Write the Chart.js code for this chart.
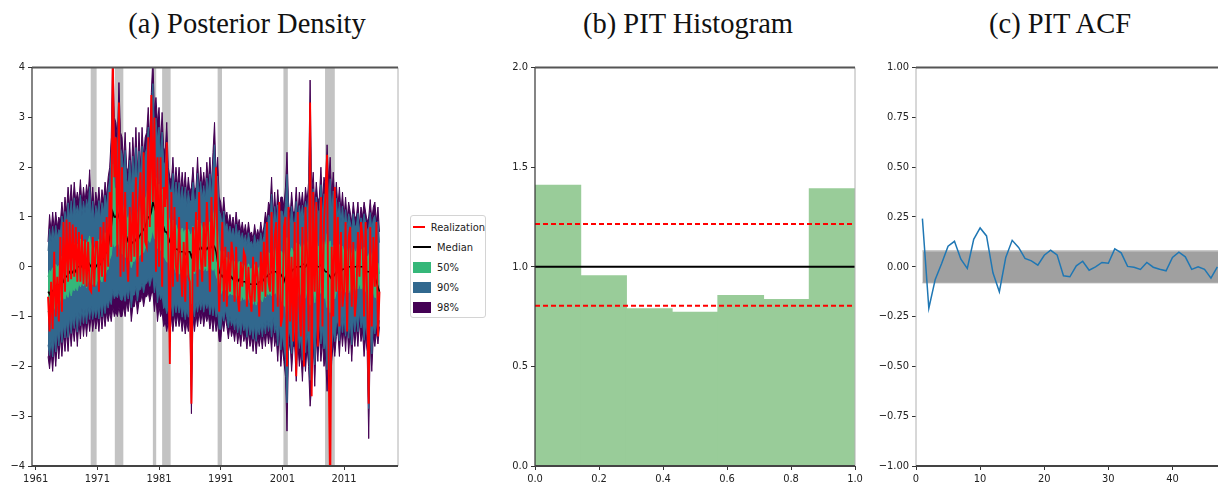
<!DOCTYPE html>
<html>
<head>
<meta charset="utf-8">
<script src="https://cdn.jsdelivr.net/npm/chart.js@4.4.1/dist/chart.umd.min.js"></script>
<style>
  body { margin: 0; background: #fff; width: 1218px; height: 494px; overflow: hidden; position: relative; }
  .title { position: absolute; top: 10px; line-height: 28px; font-family: "Liberation Serif", "DejaVu Serif", serif; font-size: 28.5px; color: #111; transform: translateX(-50%); white-space: nowrap; }
  canvas { position: absolute; top: 58px; }
  #legend { position: absolute; left: 410px; top: 215px; width: 76px; height: 103px; border: 1px solid #d4d4d4; border-radius: 3px; box-sizing: border-box; padding: 1px 0 0 2px; font-family: "DejaVu Sans Condensed", "DejaVu Sans", sans-serif; font-size: 11px; color: #222; background: #fff; }
  .row { height: 20px; display: flex; align-items: center; }
  .sw { width: 18px; margin-right: 6px; }
</style>
</head>
<body>
<div class="title" style="left:247px">(a) Posterior Density</div>
<div class="title" style="left:688px">(b) PIT Histogram</div>
<div class="title" style="left:1060px">(c) PIT ACF</div>
<canvas id="density" width="400" height="436" style="left:0px"></canvas>
<canvas id="hist" width="375" height="436" style="left:495px"></canvas>
<canvas id="acf" width="348" height="436" style="left:870px"></canvas>
<div id="legend"></div>
<script>
// quarterly readings, 1963Q1 .. 2016Q4, one row per year
const startYear = 1963;
const upper98 = [
  0.5, 1.05, 0.7, 1.1,   0.75, 1.1, 0.8, 1.0,   0.9, 1.3, 0.95, 1.4,   1.1, 1.6, 1.2, 1.65,
  1.2, 1.7, 1.3, 1.5,    1.3, 1.75, 1.25, 1.6,  1.3, 1.65, 1.4, 1.95,  1.2, 1.6, 1.1, 1.5,
  1.25, 1.6, 1.15, 1.55, 1.3, 1.7, 1.4, 1.8,    2.0, 2.6, 4.3, 3.0,    2.9, 2.6, 3.7, 2.7,
  2.6, 2.1, 2.7, 2.0,    1.9, 2.5, 1.8, 2.6,    2.0, 2.8, 1.9, 2.7,    2.0, 2.8, 2.2, 2.6,
  2.7, 3.2, 2.5, 3.5,    4.2, 3.1, 3.4, 2.9,    3.2, 2.5, 3.1, 2.4,    2.3, 2.9, 2.0, 1.8,
  1.7, 2.2, 1.6, 2.0,    1.6, 2.0, 1.5, 1.9,    1.5, 1.9, 1.4, 1.8,    1.5, 1.6, 2.0, 1.5,
  1.6, 2.2, 1.5, 2.0,    1.6, 1.9, 1.55, 2.1,   1.7, 2.2, 1.6, 2.3,    2.9, 1.8, 2.2, 1.4,
  1.3, 1.0, 1.4, 1.0,    1.1, 0.85, 1.05, 0.8,  1.0, 0.75, 1.1, 0.8,   0.95, 0.7, 0.9, 0.65,
  0.85, 0.6, 0.9, 0.65,  0.7, 0.55, 0.85, 0.6,  0.75, 0.6, 0.9, 0.65,  0.8, 1.1, 0.9, 1.3,
  1.2, 1.8, 1.0, 1.5,    1.0, 1.55, 1.1, 1.4,   1.4, 1.2, 1.6, 2.3,    1.3, 1.0, 1.5, 1.1,
  1.1, 1.6, 1.0, 1.5,    1.2, 1.5, 1.1, 1.6,    1.3, 1.7, 3.75, 1.5,   1.9, 1.2, 1.7, 1.3,
  1.4, 2.0, 1.3, 1.8,    1.6, 2.45, 1.7, 2.2,   1.4, 1.9, 1.3, 1.7,    1.2, 1.6, 1.1, 1.5,
  1.0, 1.4, 0.95, 1.3,   1.1, 0.9, 1.3, 1.0,    1.0, 1.3, 0.85, 1.2,   1.0, 1.3, 1.1, 0.9,
  1.0, 1.35, 0.95, 1.2,  1.3, 0.9, 1.2, 0.7
];
const lower98 = [
  -1.8, -2.05, -1.7, -2.1,   -1.6, -2.0, -1.5, -1.85,   -1.4, -1.8, -1.35, -1.7,   -1.3, -1.7, -1.2, -1.6,
  -1.2, -1.5, -1.1, -1.6,    -1.1, -1.45, -1.0, -1.4,   -1.05, -1.4, -1.0, -1.3,   -0.95, -1.3, -1.0, -1.25,
  -1.0, -1.3, -0.9, -1.25,   -0.9, -1.2, -0.9, -1.1,    -0.9, -1.1, -0.8, -1.0,    -0.9, -1.0, -0.8, -1.0,
  -1.0, -0.8, -1.0, -0.7,    -0.9, -0.6, -1.1, -0.8,    -0.8, -0.6, -0.95, -0.7,   -0.7, -0.55, -0.8, -0.6,
  -0.6, -0.5, -0.7, -0.55,   -0.5, -0.9, -0.6, -1.1,    -0.8, -1.0, -0.9, -1.2,    -1.1, -1.3, -1.1, -1.4,
  -1.0, -1.3, -0.95, -1.2,   -0.95, -1.2, -1.0, -1.3,   -1.05, -1.35, -1.1, -1.3,  -1.0, -2.95, -1.0, -1.3,
  -0.95, -1.2, -0.9, -1.15,  -0.9, -1.2, -0.95, -1.1,   -0.95, -1.25, -1.0, -1.3,  -1.0, -1.3, -1.1, -1.5,
  -1.5, -1.1, -1.3, -1.0,    -1.2, -1.45, -1.15, -1.4,  -1.25, -1.5, -1.2, -1.55,  -1.3, -1.6, -1.25, -1.5,
  -1.35, -1.65, -1.3, -1.6,  -1.4, -1.7, -1.35, -1.75,  -1.4, -1.6, -1.35, -1.65,  -1.3, -1.6, -1.25, -1.55,
  -1.3, -1.7, -1.2, -1.6,    -1.4, -1.9, -1.3, -2.0,    -1.6, -1.9, -2.2, -3.3,    -1.7, -1.5, -2.1, -1.6,
  -1.6, -2.3, -1.5, -2.0,    -1.7, -2.3, -1.6, -2.1,    -1.6, -2.0, -2.8, -2.4,    -1.5, -2.4, -1.4, -1.9,
  -1.3, -1.9, -1.5, -2.0,    -1.8, -2.5, -1.6, -2.6,    -1.9, -1.5, -1.8, -1.4,    -1.3, -1.8, -1.2, -1.6,
  -1.2, -1.7, -1.15, -1.75,  -1.3, -1.9, -1.25, -1.6,   -1.2, -1.6, -1.1, -1.5,    -1.3, -1.8, -1.4, -1.7,
  -3.45, -1.5, -2.1, -1.4,   -1.6, -1.3, -1.55, -1.2
];
const median = [
  -0.5, -0.55, -0.45, -0.5,  -0.45, -0.4, -0.35, -0.4,  -0.3, -0.25, -0.3, -0.2,   -0.2, -0.15, -0.1, -0.15,
  -0.1, -0.05, -0.1, 0.0,    0.0, 0.05, 0.0, 0.05,      0.05, 0.0, 0.1, 0.05,      0.0, 0.05, -0.05, 0.0,
  0.05, 0.1, 0.05, 0.1,      0.2, 0.25, 0.3, 0.4,       0.6, 0.8, 1.1, 1.0,        1.0, 1.1, 1.0, 0.9,
  0.8, 0.7, 0.7, 0.6,        0.5, 0.5, 0.45, 0.5,       0.5, 0.55, 0.5, 0.6,       0.65, 0.7, 0.75, 0.8,
  0.9, 1.0, 1.0, 1.1,        1.3, 1.2, 1.1, 1.0,        1.0, 0.9, 0.9, 0.8,        0.7, 0.7, 0.6, 0.5,
  0.45, 0.4, 0.4, 0.35,      0.35, 0.3, 0.3, 0.3,       0.3, 0.25, 0.3, 0.3,       0.3, 0.2, 0.3, 0.35,
  0.35, 0.4, 0.35, 0.4,      0.35, 0.4, 0.4, 0.35,      0.4, 0.35, 0.4, 0.45,      0.4, 0.3, 0.1, -0.1,
  -0.15, -0.2, -0.15, -0.2,  -0.2, -0.2, -0.25, -0.2,   -0.25, -0.2, -0.25, -0.3,  -0.25, -0.3, -0.3, -0.3,
  -0.3, -0.35, -0.3, -0.35,  -0.35, -0.35, -0.3, -0.35, -0.35, -0.3, -0.3, -0.3,   -0.25, -0.2, -0.2, -0.15,
  -0.15, -0.1, -0.1, -0.1,   -0.1, -0.15, -0.1, -0.15,  -0.2, -0.3, -0.2, -0.15,   -0.15, -0.1, -0.1, -0.05,
  -0.05, 0.0, 0.0, 0.0,      0.0, 0.05, 0.05, 0.0,      0.05, 0.05, 0.1, 0.0,      0.05, 0.0, 0.05, 0.0,
  0.0, 0.05, 0.0, -0.05,     -0.1, -0.1, -0.15, -0.2,   -0.25, -0.2, -0.15, -0.1,  -0.1, -0.05, -0.1, -0.05,
  -0.05, 0.0, -0.05, 0.0,    0.0, -0.05, 0.0, 0.0,      0.0, 0.05, 0.0, 0.0,       0.0, 0.0, -0.05, -0.1,
  -0.1, -0.1, -0.15, -0.1,   -0.2, -0.3, -0.4, -0.5
];
const realized = [
  -0.6, -1.3, -0.3, -1.25,   0.3, -1.0, -0.2, -1.1,     0.6, -0.9, 0.9, -0.5,      0.95, -0.3, 0.9, -0.25,
  0.85, -0.2, 0.8, -0.3,     0.7, -0.3, 0.65, -0.35,    0.55, -0.4, 0.5, -0.45,    -0.5, 0.6, -0.4, 0.5,
  0.5, -0.5, 0.8, -0.2,      0.9, -0.3, 1.0, 0.0,       1.5, 0.4, 4.3, 1.8,        2.6, 0.2, 3.3, -0.2,
  2.0, -0.1, 1.5, 0.2,       -0.3, 1.2, 0.1, 1.5,       0.2, 1.8, -0.2, 1.3,       1.9, 0.1, 2.3, 0.5,
  0.4, 2.6, 0.8, 3.45,       1.3, 3.0, -0.1, 2.2,       0.0, 2.2, -0.4, 1.6,       1.2, 2.5, 0.4, -1.95,
  1.5, -0.4, 1.2, 0.0,       -0.3, 1.0, 0.1, -0.6,      0.5, -0.7, 0.9, -0.2,      -0.3, -2.75, 0.8, -0.1,
  1.1, -0.4, 1.5, 0.2,       -0.3, 0.9, 0.0, 1.3,       0.6, -0.5, 1.4, 0.1,       1.0, 2.0, 0.3, -0.9,
  -0.2, 0.9, -0.7, 0.4,      -0.8, 0.3, -0.5, 0.5,      0.2, -0.7, 0.4, -0.6,      -0.9, 0.1, -0.4, 0.3,
  0.2, -0.8, 0.0, -0.6,      -0.9, 0.2, -0.7, 0.1,      -0.2, -1.0, 0.3, -0.5,     0.5, -0.6, 0.9, -0.3,
  -0.5, 1.1, -0.9, 0.6,      0.9, -0.8, 1.3, -1.2,      -1.0, 0.8, 1.0, -2.0,      1.2, -1.1, 0.2, -1.5,
  0.9, -2.2, 1.1, -0.8,      -1.4, 0.8, -2.0, 1.2,      0.3, -1.3, 3.3, -2.6,      1.5, -0.5, 1.3, -1.6,
  -0.4, 1.4, -1.2, 0.9,      1.5, 2.25, -1.8, -4.6,     0.4, -1.0, 1.6, -0.5,      1.0, -1.2, 0.7, -0.8,
  -0.5, 0.9, -1.3, 0.6,      0.8, -0.8, 0.5, -1.0,      -0.6, 0.7, -0.2, 0.9,      0.6, -1.0, 0.9, -0.6,
  -2.75, 0.8, -1.2, 0.6,     -0.4, 0.9, -1.4, -0.5
];
// inner bands sit at these fractions of the way from the median to the 98% edge
const frac90 = 0.82;
const frac50 = 0.3;
const recessions = [[1969.92, 1970.88], [1973.83, 1975.21], [1980.0, 1980.54], [1981.5, 1982.88],
                    [1990.5, 1991.21], [2001.17, 2001.88], [2007.92, 2009.5]];
const yearTicks = [1961, 1971, 1981, 1991, 2001, 2011];

const pitHeights = [1.41, 0.955, 0.79, 0.772, 0.856, 0.836, 1.392];
const pitTicks = [0, 0.2, 0.4, 0.6, 0.8, 1.0];
const pitUniform = 1.0;
const pitBandHi = 1.215;
const pitBandLo = 0.805;

const acf = [0.242, -0.208, -0.063, 0.017, 0.103, 0.128, 0.038, -0.008, 0.138, 0.195,
             0.155, -0.03, -0.125, 0.047, 0.133, 0.097, 0.042, 0.03, 0.008, 0.058,
             0.083, 0.06, -0.045, -0.05, 0.005, 0.028, -0.017, 0.0, 0.022, 0.018,
             0.09, 0.07, 0.002, -0.002, -0.013, 0.022, -0.002, -0.012, -0.02, 0.047,
             0.073, 0.05, -0.013, 0.0, -0.013, -0.057, 0.0];
const acfLagTicks = [0, 10, 20, 30, 40];
const acfBand = 0.08;
const acfMaxLag = 47.1;

const c50 = '#35b779', c90 = '#31688e', c98 = '#440154';

Chart.defaults.font.family = '"DejaVu Sans Condensed", "DejaVu Sans", sans-serif';
Chart.defaults.font.size = 11;
Chart.defaults.color = '#222';
Chart.defaults.animation = false;

const minus = v => (v < 0 ? '\u2212' : '') + Math.abs(v);

function spines(sides) {
  return {
    id: 'spines',
    afterDraw(chart) {
      const a = chart.chartArea, ctx = chart.ctx;
      ctx.save();
      sides.forEach(([side, color, w]) => {
        ctx.strokeStyle = color; ctx.lineWidth = w; ctx.beginPath();
        if (side === 'top') { ctx.moveTo(a.left, a.top); ctx.lineTo(a.right, a.top); }
        if (side === 'bottom') { ctx.moveTo(a.left, a.bottom); ctx.lineTo(a.right, a.bottom); }
        if (side === 'left') { ctx.moveTo(a.left, a.top); ctx.lineTo(a.left, a.bottom); }
        if (side === 'right') { ctx.moveTo(a.right, a.top); ctx.lineTo(a.right, a.bottom); }
        ctx.stroke();
      });
      ctx.restore();
    }
  };
}

const shading = {
  id: 'shading',
  beforeDatasetsDraw(chart) {
    const a = chart.chartArea, x = chart.scales.x, ctx = chart.ctx;
    ctx.save();
    ctx.fillStyle = '#c3c3c3';
    recessions.forEach(([s, e]) => {
      const x0 = x.getPixelForValue(s), x1 = x.getPixelForValue(e);
      ctx.fillRect(x0, a.top, x1 - x0, a.bottom - a.top);
    });
    ctx.restore();
  }
};

function tickGrid() {
  return { display: true, offset: false, drawOnChartArea: false, drawTicks: true, tickLength: 4, color: '#333', tickWidth: 1 };
}

// (a) posterior density
const quarterYears = realized.map((_, i) => startYear + i * 0.25);
const pts = arr => arr.map((y, i) => ({ x: quarterYears[i], y }));
const toward = (edge, f) => median.map((m, i) => m + f * (edge[i] - m));
const bandLine = (label, data, color, fill, order) => ({
  label, data: pts(data), borderColor: color, backgroundColor: color, borderWidth: 1,
  pointRadius: 0, tension: 0, fill, order
});

const densityChart = new Chart(document.getElementById('density'), {
  type: 'line',
  data: {
    datasets: [
      bandLine('98% low', lower98, c98, false, 8),
      bandLine('98%', upper98, c98, '-1', 7),
      bandLine('90% low', toward(lower98, frac90), c90, false, 6),
      bandLine('90%', toward(upper98, frac90), c90, '-1', 5),
      bandLine('50% low', toward(lower98, frac50), c50, false, 4),
      bandLine('50%', toward(upper98, frac50), c50, '-1', 3),
      { label: 'Median', data: pts(median), borderColor: '#000', borderWidth: 1.5, pointRadius: 0, tension: 0, fill: false, order: 1 },
      { label: 'Realization', data: pts(realized), borderColor: '#ff0000', borderWidth: 1.9, pointRadius: 0, tension: 0, fill: false, order: 0 }
    ]
  },
  options: {
    responsive: false,
    layout: { padding: { top: 0, right: 2, left: 0, bottom: 0 } },
    plugins: { legend: { display: false }, tooltip: { enabled: false } },
    scales: {
      x: {
        type: 'linear', min: 1960.4, max: 2019.75,
        grid: tickGrid(), border: { display: false },
        afterBuildTicks: s => { s.ticks = yearTicks.map(v => ({ value: v })); },
        afterFit: s => { s.height = 28; },
        ticks: { padding: 3, maxRotation: 0, autoSkip: false, callback: v => String(v) }
      },
      y: {
        min: -4, max: 4,
        grid: tickGrid(), border: { display: false },
        afterFit: s => { s.width = 32; },
        ticks: { stepSize: 1, padding: 3, callback: minus }
      }
    }
  },
  plugins: [shading, spines([['left', '#333', 1.2], ['right', '#b0b0b0', 1], ['top', '#555', 2], ['bottom', '#444', 2]])]
});

// legend built from the density datasets
const legendOrder = ['Realization', 'Median', '50%', '90%', '98%'];
const legendBox = document.getElementById('legend');
legendOrder.forEach(name => {
  const ds = densityChart.data.datasets.find(d => d.label === name);
  const isLine = ds.fill === false;
  const row = document.createElement('div');
  row.className = 'row';
  const sw = document.createElement('div');
  sw.className = 'sw';
  sw.style.height = isLine ? '2px' : '11px';
  sw.style.background = ds.borderColor;
  row.appendChild(sw);
  row.appendChild(document.createTextNode(name));
  legendBox.appendChild(row);
});

// (b) PIT histogram
const nBins = pitHeights.length;
const flat = (y, color, dash) => ({
  type: 'line', data: [{ x: 0, y }, { x: 1, y }], borderColor: color, borderWidth: 2,
  borderDash: dash, pointRadius: 0, fill: false, order: 0
});
new Chart(document.getElementById('hist'), {
  type: 'bar',
  data: {
    datasets: [
      { type: 'bar', data: pitHeights.map((h, i) => ({ x: (i + 0.5) / nBins, y: h })),
        backgroundColor: 'rgb(153,204,153)', barPercentage: 1, categoryPercentage: 1, inflateAmount: 0.5, order: 2 },
      flat(pitUniform, '#000', []),
      flat(pitBandHi, '#ff0000', [5, 3]),
      flat(pitBandLo, '#ff0000', [5, 3])
    ]
  },
  options: {
    responsive: false,
    layout: { padding: { top: 0, right: 15, left: 0, bottom: 0 } },
    plugins: { legend: { display: false }, tooltip: { enabled: false } },
    scales: {
      x: {
        type: 'linear', min: 0, max: 1, offset: false,
        grid: tickGrid(), border: { display: false },
        afterBuildTicks: s => { s.ticks = pitTicks.map(v => ({ value: v })); },
        afterFit: s => { s.height = 28; },
        ticks: { padding: 3, maxRotation: 0, autoSkip: false, callback: v => v.toFixed(1) }
      },
      y: {
        min: 0, max: 2,
        grid: tickGrid(), border: { display: false },
        afterFit: s => { s.width = 40; },
        ticks: { stepSize: 0.5, padding: 3, callback: v => v.toFixed(1) }
      }
    }
  },
  plugins: [spines([['left', '#333', 1.2], ['right', '#b0b0b0', 1], ['top', '#555', 2], ['bottom', '#444', 2]])]
});

// (c) PIT ACF
new Chart(document.getElementById('acf'), {
  type: 'line',
  data: {
    datasets: [
      { data: [{ x: 1, y: -acfBand }, { x: acfMaxLag, y: -acfBand }], borderColor: '#cacaca', borderWidth: 1.5,
        pointRadius: 0, fill: false, order: 3 },
      { data: [{ x: 1, y: acfBand }, { x: acfMaxLag, y: acfBand }], borderColor: '#cacaca', borderWidth: 1.5,
        backgroundColor: '#a0a0a0', pointRadius: 0, fill: '-1', order: 2 },
      { data: acf.map((v, i) => ({ x: i + 1, y: v })), borderColor: '#1f77b4', borderWidth: 1.5,
        pointRadius: 0, tension: 0, fill: false, order: 0 }
    ]
  },
  options: {
    responsive: false,
    layout: { padding: { top: 0, right: 0, left: 0, bottom: 0 } },
    plugins: { legend: { display: false }, tooltip: { enabled: false } },
    scales: {
      x: {
        type: 'linear', min: 0, max: acfMaxLag,
        grid: tickGrid(), border: { display: false },
        afterBuildTicks: s => { s.ticks = acfLagTicks.map(v => ({ value: v })); },
        afterFit: s => { s.height = 28; },
        ticks: { padding: 3, maxRotation: 0, autoSkip: false, callback: v => String(v) }
      },
      y: {
        min: -1, max: 1,
        grid: tickGrid(), border: { display: false },
        afterFit: s => { s.width = 46; },
        ticks: { stepSize: 0.25, padding: 3, callback: v => (v < 0 ? '\u2212' : '') + Math.abs(v).toFixed(2) }
      }
    }
  },
  plugins: [spines([['left', '#b0b0b0', 1], ['top', '#555', 2], ['bottom', '#444', 2]])]
});
</script>
</body>
</html>
